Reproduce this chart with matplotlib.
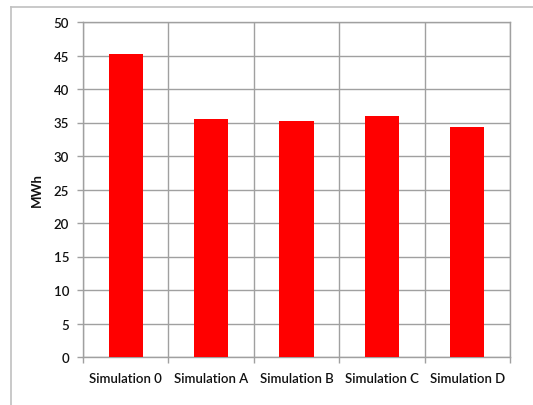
import matplotlib
matplotlib.use("Agg")
import matplotlib.pyplot as plt
from matplotlib.lines import Line2D

categories = ["Simulation 0", "Simulation A", "Simulation B", "Simulation C", "Simulation D"]
energy_mwh = [45.2, 35.5, 35.2, 36.0, 34.3]
y_ticks = [0, 5, 10, 15, 20, 25, 30, 35, 40, 45, 50]

plt.rcParams["font.family"] = ["Lato", "DejaVu Sans"]
text_color = "#111111"
grid_color = "#a0a0a0"

fig = plt.figure(figsize=(5.33, 4.06), dpi=100)
ax = fig.add_axes([83 / 533, 1 - 358 / 406, (510 - 83) / 533, (358 - 23) / 406])

x = list(range(len(categories)))
ax.bar(x, energy_mwh, width=0.4, color="#ff0000", zorder=3)

ax.set_xlim(-0.5, len(categories) - 0.5)
ax.set_ylim(0, 50)
ax.set_yticks(y_ticks)
ax.set_yticklabels([str(v) for v in y_ticks], fontsize=9.5, color=text_color, fontweight="semibold")
ax.set_xticks(x)
ax.set_xticklabels(categories, fontsize=9.5, color=text_color, fontweight="semibold")
ax.tick_params(axis="x", which="major", length=0, pad=11)
ax.set_xticks([i - 0.5 for i in range(len(categories) + 1)], minor=True)
ax.tick_params(axis="x", which="minor", length=4, color=grid_color, width=1)
ax.tick_params(axis="y", length=4, color=grid_color, width=1, pad=6)

ax.grid(True, axis="y", color=grid_color, linewidth=1, zorder=0)
ax.grid(True, axis="x", which="minor", color=grid_color, linewidth=1, zorder=0)
for s in ax.spines.values():
    s.set_color(grid_color)
    s.set_linewidth(1)

ax.set_ylabel("MWh", fontsize=9.5, color=text_color, fontweight="bold", labelpad=8)

# outer chart frame (top and left edges)
fig.add_artist(Line2D([11 / 533, 11 / 533], [0, 1 - 8 / 406], transform=fig.transFigure,
                      color="#c0c0c0", linewidth=1.2))
fig.add_artist(Line2D([11 / 533, 1], [1 - 8 / 406, 1 - 8 / 406], transform=fig.transFigure,
                      color="#c0c0c0", linewidth=1.2))

fig.savefig("out.png", dpi=100)
